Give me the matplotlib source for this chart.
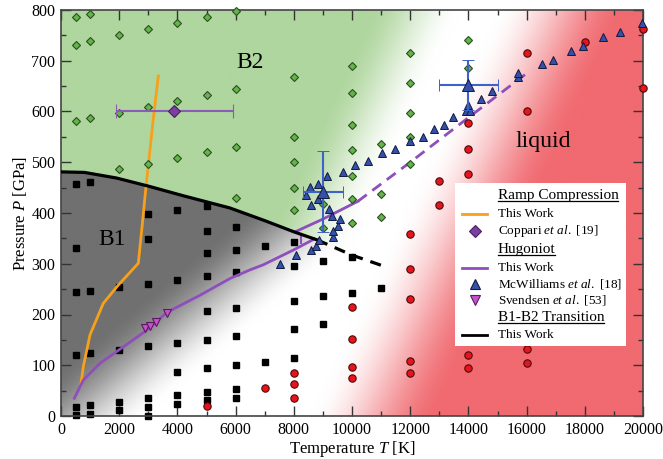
import numpy as np
import matplotlib
matplotlib.use('Agg')
import matplotlib.pyplot as plt

plt.rcParams.update({
    'font.family': ['Liberation Serif', 'DejaVu Serif'],
    'mathtext.fontset': 'custom',
    'mathtext.rm': 'Liberation Serif',
    'mathtext.it': 'Liberation Serif:italic',
    'font.size': 11,
})

# ---------------- data ----------------
# B2 (green diamonds)
b2_T = [500, 500, 500, 1000, 1000, 1000, 2000, 2000, 2000, 3000, 3000, 3000,
        4000, 4000, 4000, 5000, 5000, 5000, 6000, 6000, 6000, 6000,
        8000, 8000, 8000, 8000, 8000, 9000, 9000,
        10000, 10000, 10000, 10000, 10000, 10000, 10000,
        11000, 11000, 11000, 12000, 12000, 12000, 12000, 12000, 14000, 14000]
b2_P = [787, 732, 581, 793, 739, 587, 751, 598, 486, 762, 609, 497,
        774, 621, 509, 787, 633, 520, 799, 644, 531, 429,
        667, 550, 501, 449, 405, 417, 371,
        690, 636, 573, 524, 472, 427, 381,
        536, 437, 393, 715, 657, 598, 549, 496, 741, 685]

# B1 (black squares)
b1_T = [500]*6 + [1000]*5 + [2000]*4 + [3000]*7 + [4000]*6 + [5000]*9 + [6000]*8 \
       + [7000]*2 + [8000]*5 + [9000]*3 + [10000]*2 + [11000]
b1_P = [457, 332, 244, 120, 18, 1,
        462, 247, 124, 22, 4,
        255, 131, 28, 12,
        398, 349, 261, 137, 35, 17, 0,
        406, 268, 143, 87, 41, 24,
        414, 364, 322, 276, 206, 150, 94, 47, 32,
        372, 327, 284, 213, 158, 101, 54, 36,
        334, 106,
        342, 296, 227, 172, 115,
        305, 236, 181,
        314, 243,
        253]

# liquid (red circles)
liq_T = [5000, 7000, 8000, 8000, 8000, 10000, 10000, 10000, 10000,
         12000, 12000, 12000, 12000, 12000, 13000, 13000,
         14000, 14000, 14000, 14000, 14000, 16000, 16000, 16000, 16000,
         18000, 20000, 20000]
liq_P = [20, 56, 84, 63, 35, 214, 152, 97, 74,
         359, 289, 230, 109, 84, 464, 416,
         577, 526, 476, 120, 94, 715, 600, 133, 104,
         736, 762, 646]

# McWilliams et al. (blue triangles)
mcw_T = [7526, 8076, 8591, 8763, 8876, 9358, 9358, 9530, 9588, 9302, 9220, 8591,
         8842, 8420, 8557, 8842, 9130, 9680, 10103, 10538, 11020, 11478, 11993,
         12450, 12830, 13170, 13460, 13930, 14070, 14000, 14420, 14820, 15690,
         15715, 16540, 16895, 17515, 17930, 18615, 19210, 19955]
mcw_P = [299, 317, 328, 335, 347, 353, 365, 374, 388, 394, 407, 416,
         427, 435, 451, 458, 473, 481, 494, 503, 518, 526, 542,
         550, 566, 573, 590, 600, 600, 613, 625, 641, 667,
         675, 694, 701, 720, 730, 747, 757, 775]
mcw_err_T = [9000, 14000]
mcw_err_P = [442, 652]
mcw_err_dT = [700, 1000]
mcw_err_dP = [80, 50]

# Svendsen et al.
sv_T = [2900, 3050, 3250, 3650]
sv_P = [173, 178, 185, 202]

# Coppari et al.
cop_T = [3900]
cop_P = [600]
cop_dT = [2000]

# Ramp compression (this work)
ramp_T = [676, 766, 997, 1454, 1970, 2657, 2780, 2900, 3030, 3180, 3345]
ramp_P = [59, 97, 160, 222, 258, 301, 370, 440, 510, 590, 670]

# Hugoniot (this work)
hug_lo_T = [458, 768, 1340, 1913, 2945, 3632, 4777, 5808, 6495, 6952, 7983, 8615, 8700]
hug_lo_P = [35, 71, 104, 127, 169, 204, 238, 271, 288, 298, 327, 346, 349]
hug_jump_T = [8250, 8250]
hug_jump_P = [340, 357]
hug_hi_T = [8050, 9000, 10200]
hug_hi_P = [363, 388, 423]
hug_da_T = [10200, 12000, 14000, 16000]
hug_da_P = [423, 500, 588, 675]

# B1-B2 transition (this work)
tr_T = [0, 800, 1900, 3000, 4200, 5800, 7000, 8000, 8800]
tr_P = [481, 480, 469, 453, 434, 410, 385, 363, 347]
tr_da_T = [8800, 10000, 11000]
tr_da_P = [347, 317, 297]

# ---------------- colours ----------------
GREEN_BG = np.array([175, 214, 158]) / 255
GRAY_BG = np.array([112, 112, 112]) / 255
RED_BG = np.array([240, 106, 112]) / 255
ORANGE = '#f7a11a'
PURPLE = '#8e4fbc'
BLUE = '#3550a8'
EBLUE = '#3d63c8'

fig = plt.figure(figsize=(6.63, 4.59), dpi=100)
ax = fig.add_axes([61/663, 1 - 416/459, 582/663, 406/459])

# ---------------- background ----------------
Tg, Pg = np.meshgrid(np.linspace(0, 20000, 800), np.linspace(0, 800, 400))


def smooth(x):
    x = np.clip(x, 0, 1)
    return x * x * (3 - 2 * x)


Tm = 8000 + 8.1 * Pg
a_green = smooth((Tm - 700 - Tg) / 3200)
a_red = smooth((Tg - Tm - 500) / 4500)
Ptr = np.interp(Tg, tr_T + tr_da_T[1:], tr_P + tr_da_P[1:])
Ptr = np.where(Tg > 11000, 297 - 0.02 * (Tg - 11000), Ptr)
Tgray = 3000 + 20.5 * Pg
a_gray = smooth((Tgray - Tg) / 5000)
white = np.ones(3)
above = (Pg >= Ptr)[..., None]
img_g = (1 - a_green[..., None]) * white + a_green[..., None] * GREEN_BG
img_k = (1 - a_gray[..., None]) * white + a_gray[..., None] * GRAY_BG
img = np.where(above, img_g, img_k)
img = (1 - a_red[..., None]) * img + a_red[..., None] * RED_BG
ax.imshow(img, extent=[0, 20000, 0, 800], origin='lower', aspect='auto',
          interpolation='bilinear', zorder=0)

# ---------------- markers ----------------
ax.plot(b1_T, b1_P, 's', ms=4.3, color='black', mec='black', zorder=2.5, clip_on=False)
ax.plot(b2_T, b2_P, 'D', ms=4.4, mfc='#62b548', mec='#2d4d22', mew=0.8, zorder=4, clip_on=False)
ax.plot(liq_T, liq_P, 'o', ms=5.3, mfc='#e8141c', mec='#4a0a0a', mew=0.8, zorder=4, clip_on=False)

# lines
ax.plot(ramp_T, ramp_P, color=ORANGE, lw=2, zorder=3)
ax.plot(hug_lo_T, hug_lo_P, color=PURPLE, lw=2, zorder=3)
ax.plot(hug_jump_T, hug_jump_P, color=PURPLE, lw=1.5, zorder=3)
ax.plot(hug_hi_T, hug_hi_P, color=PURPLE, lw=2, zorder=3)
ax.plot(hug_da_T, hug_da_P, color=PURPLE, lw=2, ls=(0, (4, 2.5)), zorder=3)
ax.plot(tr_T, tr_P, color='black', lw=2.3, zorder=3.2)
ax.plot(tr_da_T, tr_da_P, color='black', lw=2.3, ls=(0, (3.5, 2.5)), zorder=3.2)

ax.plot(mcw_T, mcw_P, '^', ms=5.6, mfc=BLUE, mec='#101a40', mew=0.7, zorder=4.5, clip_on=False)
ax.errorbar(mcw_err_T, mcw_err_P, xerr=mcw_err_dT, yerr=mcw_err_dP, fmt='^', ms=8,
            mfc=BLUE, mec='#101a40', mew=0.7, ecolor=EBLUE, elinewidth=1.5,
            capsize=4, capthick=1.5, zorder=5)
ax.plot(sv_T, sv_P, 'v', ms=6, mfc='#c452c8', mec='#5a1a60', mew=0.8, zorder=5)
ax.errorbar(cop_T, cop_P, xerr=cop_dT, fmt='D', ms=6.5, mfc='#7b3fa0', mec='#4a2060',
            mew=0.8, ecolor='#8a5cb8', elinewidth=1.5, capsize=5, capthick=1.5, zorder=5)

# phase labels
ax.text(6500, 697, 'B2', fontsize=17, ha='center', va='center', zorder=6)
ax.text(1750, 347, 'B1', fontsize=17, ha='center', va='center', zorder=6)
ax.text(16560, 540, 'liquid', fontsize=17, ha='center', va='center', zorder=6)

# ---------------- axes ----------------
ax.set_xlim(0, 20000)
ax.set_ylim(0, 800)
ax.set_xticks(np.arange(0, 20001, 2000))
ax.set_xticks(np.arange(0, 20001, 1000), minor=True)
ax.set_yticks(np.arange(0, 801, 100))
ax.set_yticks(np.arange(0, 801, 50), minor=True)
ax.tick_params(which='both', direction='in', top=True, right=True, colors='#333333',
               labelcolor='black', labelsize=11.5, width=1)
ax.tick_params(which='major', length=7, pad=4)
ax.tick_params(which='minor', length=3.5)
for s in ax.spines.values():
    s.set_color('#444444')
    s.set_linewidth(1.2)
ax.set_xlabel(r'Temperature $T$ [K]', fontsize=12, labelpad=1)
ax.set_ylabel(r'Pressure $P$ [GPa]', fontsize=12, labelpad=2)

# ---------------- legend (manual) ----------------
def ax_xy(px, py):
    return (px - 61) / 582, (416 - py) / 406

x0, y0 = ax_xy(455, 346)
x1, y1 = ax_xy(626, 183)
ax.add_patch(plt.Rectangle((x0, y0), x1 - x0, y1 - y0, transform=ax.transAxes,
                           facecolor='white', edgecolor='none', zorder=7))
tx, _ = ax_xy(497.5, 0)
hl0, _ = ax_xy(462, 0)
hl1, _ = ax_xy(487, 0)
mx, _ = ax_xy(475, 0)

rows = [
    ('header', 'Ramp Compression', 196),
    ('line', ORANGE, 'This Work', 214.3),
    ('marker', ('D', 6, '#7b3fa0', '#4a2060'), r'Coppari $\mathit{et\ al.}$ [19]', 231),
    ('header', 'Hugoniot', 249.3),
    ('line', PURPLE, 'This Work', 267.7),
    ('marker', ('^', 6.5, BLUE, '#101a40'), r'McWilliams $\mathit{et\ al.}$ [18]', 284.3),
    ('marker', ('v', 6.5, '#c452c8', '#5a1a60'), r'Svendsen $\mathit{et\ al.}$ [53]', 300),
    ('header', 'B1-B2 Transition', 317.7),
    ('line', 'black', 'This Work', 335),
]
headers = []
for r in rows:
    if r[0] == 'header':
        _, yy = ax_xy(0, r[2])
        t = ax.text(tx, yy, r[1], transform=ax.transAxes, fontsize=11,
                    va='center', ha='left', zorder=8)
        headers.append((t, yy))
    elif r[0] == 'line':
        _, yy = ax_xy(0, r[3])
        ax.plot([hl0, hl1], [yy, yy], transform=ax.transAxes, color=r[1], lw=2,
                zorder=8, clip_on=False)
        ax.text(tx, yy, r[2], transform=ax.transAxes, fontsize=9.5, va='center',
                ha='left', zorder=8)
    else:
        _, yy = ax_xy(0, r[3])
        m, ms, fc, ec = r[1]
        ax.plot([mx], [yy], m, ms=ms, mfc=fc, mec=ec, mew=0.8, transform=ax.transAxes,
                zorder=8, clip_on=False)
        ax.text(tx, yy, r[2], transform=ax.transAxes, fontsize=9.5, va='center',
                ha='left', zorder=8)

fig.canvas.draw()
rend = fig.canvas.get_renderer()
inv = ax.transAxes.inverted()
for t, yy in headers:
    bb = t.get_window_extent(rend)
    (ax0, ay0), (ax1, ay1) = inv.transform([[bb.x0, bb.y0], [bb.x1, bb.y1]])
    uy = ay0 + 0.003
    ax.plot([ax0, ax1], [uy, uy], transform=ax.transAxes, color='black', lw=0.9,
            zorder=8, clip_on=False)

fig.savefig('out.png', dpi=100)
